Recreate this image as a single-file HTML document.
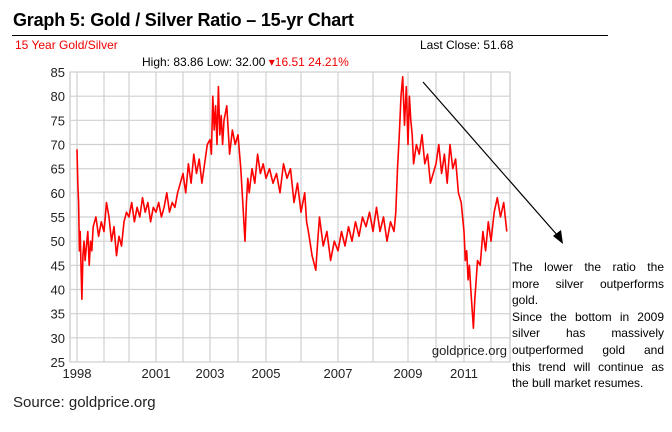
<!DOCTYPE html>
<html><head><meta charset="utf-8"><style>
body{margin:0;background:#fff;width:672px;height:432px;overflow:hidden;position:relative;font-family:"Liberation Sans",sans-serif}
.t{position:absolute;white-space:nowrap}
#note{position:absolute;left:512px;top:259px;width:152px;font-size:12px;line-height:16.6px;color:#000}
#note div{text-align:justify;text-align-last:justify;white-space:nowrap;height:16.6px}
#note div.l{text-align-last:left}
</style></head><body>
<svg id="chart" width="672" height="432" style="position:absolute;left:0;top:0"></svg>
<div class="t" style="left:13px;top:10px;font-size:18px;font-weight:bold;letter-spacing:-0.2px">Graph 5: Gold / Silver Ratio – 15-yr Chart</div>
<div style="position:absolute;left:12px;top:35px;width:596px;height:1px;background:#000"></div>
<div class="t" style="left:15px;top:38px;font-size:12px;color:#e00">15 Year Gold/Silver</div>
<div class="t" style="left:420px;top:38px;font-size:12px">Last Close: 51.68</div>
<div class="t" style="left:142px;top:55px;font-size:12px">High: 83.86 Low: 32.00 <span style="color:#e00">▾16.51 24.21%</span></div>
<div id="note">
<div>The lower the ratio the</div><div>more silver outperforms</div><div class="l">gold.</div><div>Since the bottom in 2009</div><div>silver has massively</div><div>outperformed gold and</div><div>this trend will continue as</div><div class="l">the bull market resumes.</div>
</div>
<div class="t" style="left:13px;top:394px;font-size:15px;color:#222">Source: goldprice.org</div>
<script>
const yTicks=[25,30,35,40,45,50,55,60,65,70,75,80,85];
const xTickLabels=["1998","2001","2003","2005","2007","2009","2011"];
const xTickYears=[1998,2001,2003,2005,2007,2009,2011];
const gridYears=[1998,1999,2000,2001,2002,2003,2004,2005,2006,2007,2008,2009,2010,2011,2012];
const dates=[1998.0,1998.03,1998.06,1998.09,1998.12,1998.15,1998.18,1998.22,1998.26,1998.3,1998.35,1998.4,1998.45,1998.5,1998.55,1998.6,1998.7,1998.8,1998.9,1999.0,1999.1,1999.2,1999.3,1999.4,1999.5,1999.6,1999.7,1999.8,1999.9,2000.0,2000.1,2000.2,2000.3,2000.4,2000.5,2000.6,2000.7,2000.8,2000.9,2001.0,2001.1,2001.2,2001.3,2001.4,2001.5,2001.6,2001.7,2001.8,2001.9,2002.0,2002.1,2002.2,2002.3,2002.4,2002.5,2002.6,2002.7,2002.8,2002.9,2003.0,2003.05,2003.1,2003.15,2003.2,2003.25,2003.3,2003.35,2003.4,2003.45,2003.5,2003.6,2003.7,2003.8,2003.9,2004.0,2004.1,2004.15,2004.2,2004.25,2004.3,2004.35,2004.4,2004.5,2004.6,2004.7,2004.8,2004.9,2005.0,2005.1,2005.2,2005.3,2005.4,2005.5,2005.6,2005.7,2005.8,2005.9,2006.0,2006.1,2006.15,2006.2,2006.3,2006.4,2006.45,2006.5,2006.6,2006.7,2006.8,2006.9,2007.0,2007.1,2007.2,2007.3,2007.4,2007.5,2007.6,2007.7,2007.8,2007.9,2008.0,2008.1,2008.2,2008.3,2008.4,2008.5,2008.6,2008.65,2008.7,2008.75,2008.8,2008.85,2008.9,2008.95,2009.0,2009.05,2009.1,2009.15,2009.2,2009.3,2009.4,2009.5,2009.6,2009.7,2009.8,2009.9,2010.0,2010.1,2010.2,2010.3,2010.4,2010.5,2010.6,2010.7,2010.8,2010.9,2011.0,2011.05,2011.1,2011.15,2011.2,2011.25,2011.3,2011.35,2011.4,2011.45,2011.5,2011.6,2011.7,2011.8,2011.9,2012.0,2012.1,2012.2,2012.3,2012.4,2012.5,2012.55];
const ratios=[69,62,58,48,52,44,38,47,50,46,49,52,45,50,48,53,55,51,54,52,58,55,50,53,47,51,49,54,56,55,58,54,57,55,59,56,58,54,57,56,58,55,57,60,56,58,57,60,62,64,60,66,62,68,64,67,62,66,70,71,68,80,73,78,70,82,72,76,70,75,78,68,73,70,72,65,60,55,50,58,63,60,65,62,68,64,66,63,65,62,64,60,66,63,65,58,62,56,60,54,52,47,44,50,55,49,52,46,50,48,52,49,53,50,54,51,55,53,56,52,57,52,55,50,54,52,56,65,72,80,84,74,82,70,80,75,72,66,70,68,72,66,68,62,64,66,70,64,68,62,70,65,67,60,58,52,46,48,42,45,40,36,32,38,42,46,45,52,48,54,50,56,59,55,58,52];
const svg=document.getElementById('chart');
const NS='http://www.w3.org/2000/svg';
const L=70,R=510,T=72,B=362;
const yMin=25,yMax=85;
const yS=v=>B-(v-yMin)/(yMax-yMin)*(B-T);
const kYears=[1998,1999,2000,2001,2002,2003,2004,2005,2006,2007,2008,2009,2010,2011,2012,2012.6];
const kPix=[77,104,129,156,183,210,238,266,301,338,373,408,436,464,491,510];
function xS(yr){for(let i=0;i<kYears.length-1;i++){if(yr<=kYears[i+1]){const f=(yr-kYears[i])/(kYears[i+1]-kYears[i]);return kPix[i]+f*(kPix[i+1]-kPix[i]);}}return kPix[kPix.length-1];}
function mk(tag,a){const e=document.createElementNS(NS,tag);for(const k in a)e.setAttribute(k,a[k]);svg.appendChild(e);return e;}
let r=mk('rect',{x:L,y:T,width:R-L,height:B-T,fill:'#fff',stroke:'#bbb'});


gridYears.forEach(y=>{const x=xS(y);const g=mk('line',{x1:x,y1:T,x2:x,y2:B,stroke:'#d0d0d0','stroke-width':1.2});

});
yTicks.forEach(v=>{const y=yS(v);const g=mk('line',{x1:L,y1:y,x2:R,y2:y,stroke:'#d0d0d0','stroke-width':1.2});


const t=mk('text',{x:L-5,y:y+5,'text-anchor':'end','font-size':'13',fill:'#222','font-family':'Liberation Sans'});t.textContent=v;

});
xTickLabels.forEach((lab,i)=>{const t=mk('text',{x:xS(xTickYears[i]),y:B+16,'text-anchor':'middle','font-size':'13',fill:'#222','font-family':'Liberation Sans'});t.textContent=lab;

});
const wm=mk('text',{x:R-3,y:B-7,'text-anchor':'end','font-size':'13',fill:'#222','font-family':'Liberation Sans'});wm.textContent='goldprice.org';


const pts=dates.map((d,i)=>xS(d).toFixed(1)+','+yS(ratios[i]).toFixed(1)).join(' ');
const pl=mk('polyline',{points:pts,fill:'none',stroke:'#f00','stroke-width':1.6,'stroke-linejoin':'round'});


const ar=mk('line',{x1:423,y1:82,x2:558,y2:236,stroke:'#000','stroke-width':1.2});


const ah=mk('polygon',{points:'563,244 553,236 561,230',fill:'#000'});


</script>
</body></html>
